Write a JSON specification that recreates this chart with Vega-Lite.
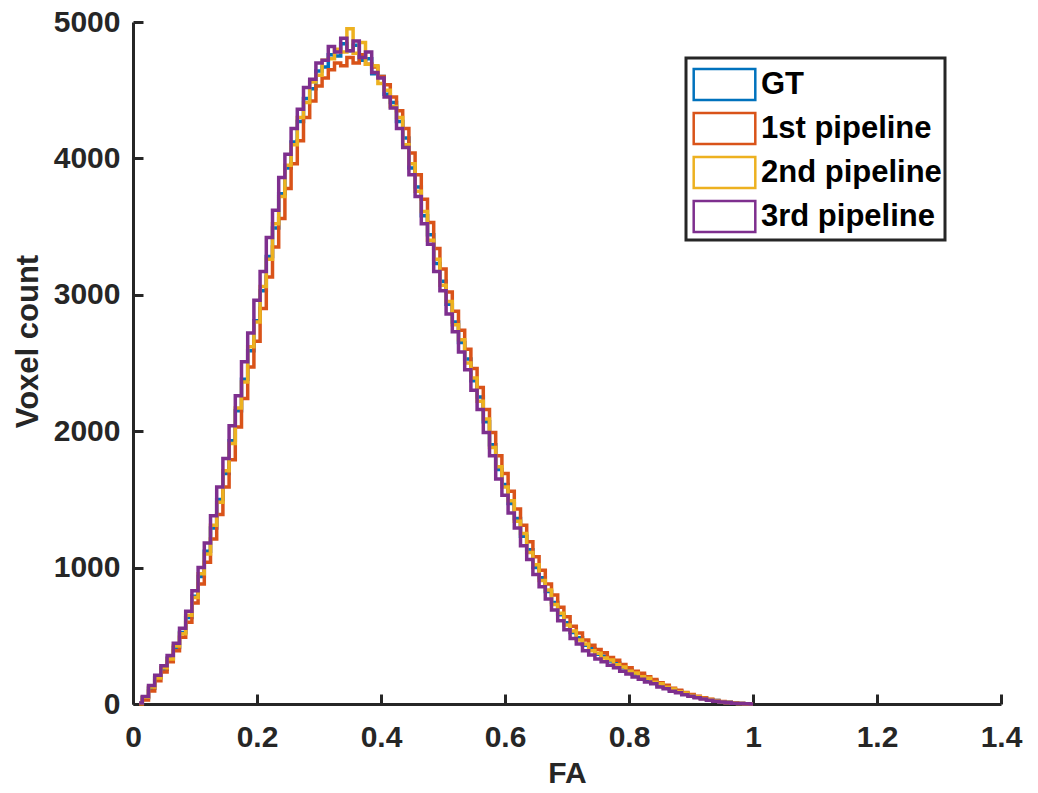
{
"$schema":"https://vega.github.io/schema/vega-lite/v6.json",
"autosize":"none",
"width":868,"height":682,
"padding":{"left":133,"top":22,"right":37,"bottom":89},
"background":"white",
"config":{"view":{"stroke":null},"font":"Liberation Sans"},
"datasets":{
"gt":[{"x":0.01,"y":5},{"x":0.02,"y":45},{"x":0.03,"y":115},{"x":0.04,"y":195},{"x":0.05,"y":255},{"x":0.06,"y":335},{"x":0.07,"y":415},{"x":0.08,"y":525},{"x":0.09,"y":635},{"x":0.10,"y":790},{"x":0.11,"y":935},{"x":0.12,"y":1120},{"x":0.13,"y":1290},{"x":0.14,"y":1500},{"x":0.15,"y":1690},{"x":0.16,"y":1930},{"x":0.17,"y":2150},{"x":0.18,"y":2380},{"x":0.19,"y":2590},{"x":0.20,"y":2810},{"x":0.21,"y":3030},{"x":0.22,"y":3280},{"x":0.23,"y":3490},{"x":0.24,"y":3740},{"x":0.25,"y":3930},{"x":0.26,"y":4120},{"x":0.27,"y":4270},{"x":0.28,"y":4440},{"x":0.29,"y":4510},{"x":0.30,"y":4640},{"x":0.31,"y":4670},{"x":0.32,"y":4760},{"x":0.33,"y":4750},{"x":0.34,"y":4840},{"x":0.35,"y":4790},{"x":0.36,"y":4830},{"x":0.37,"y":4720},{"x":0.38,"y":4730},{"x":0.39,"y":4620},{"x":0.40,"y":4600},{"x":0.41,"y":4470},{"x":0.42,"y":4410},{"x":0.43,"y":4270},{"x":0.44,"y":4150},{"x":0.45,"y":3930},{"x":0.46,"y":3790},{"x":0.47,"y":3580},{"x":0.48,"y":3440},{"x":0.49,"y":3230},{"x":0.50,"y":3100},{"x":0.51,"y":2930},{"x":0.52,"y":2800},{"x":0.53,"y":2650},{"x":0.54,"y":2530},{"x":0.55,"y":2370},{"x":0.56,"y":2250},{"x":0.57,"y":2070},{"x":0.58,"y":1900},{"x":0.59,"y":1720},{"x":0.60,"y":1610},{"x":0.61,"y":1470},{"x":0.62,"y":1360},{"x":0.63,"y":1230},{"x":0.64,"y":1130},{"x":0.65,"y":1000},{"x":0.66,"y":925},{"x":0.67,"y":825},{"x":0.68,"y":745},{"x":0.69,"y":655},{"x":0.70,"y":595},{"x":0.71,"y":525},{"x":0.72,"y":485},{"x":0.73,"y":430},{"x":0.74,"y":405},{"x":0.75,"y":365},{"x":0.76,"y":350},{"x":0.77,"y":315},{"x":0.78,"y":300},{"x":0.79,"y":265},{"x":0.80,"y":250},{"x":0.81,"y":220},{"x":0.82,"y":210},{"x":0.83,"y":180},{"x":0.84,"y":170},{"x":0.85,"y":140},{"x":0.86,"y":128},{"x":0.87,"y":105},{"x":0.88,"y":95},{"x":0.89,"y":76},{"x":0.90,"y":66},{"x":0.91,"y":50},{"x":0.92,"y":44},{"x":0.93,"y":31},{"x":0.94,"y":25},{"x":0.95,"y":16},{"x":0.96,"y":12},{"x":0.97,"y":6},{"x":0.98,"y":4},{"x":0.99,"y":2},{"x":1.00,"y":0}],
"p1":[{"x":0.01,"y":0},{"x":0.02,"y":30},{"x":0.03,"y":95},{"x":0.04,"y":170},{"x":0.05,"y":235},{"x":0.06,"y":310},{"x":0.07,"y":390},{"x":0.08,"y":490},{"x":0.09,"y":600},{"x":0.10,"y":740},{"x":0.11,"y":880},{"x":0.12,"y":1040},{"x":0.13,"y":1210},{"x":0.14,"y":1390},{"x":0.15,"y":1590},{"x":0.16,"y":1790},{"x":0.17,"y":2030},{"x":0.18,"y":2240},{"x":0.19,"y":2470},{"x":0.20,"y":2660},{"x":0.21,"y":2900},{"x":0.22,"y":3130},{"x":0.23,"y":3350},{"x":0.24,"y":3560},{"x":0.25,"y":3780},{"x":0.26,"y":3960},{"x":0.27,"y":4130},{"x":0.28,"y":4300},{"x":0.29,"y":4420},{"x":0.30,"y":4530},{"x":0.31,"y":4590},{"x":0.32,"y":4650},{"x":0.33,"y":4700},{"x":0.34,"y":4680},{"x":0.35,"y":4740},{"x":0.36,"y":4700},{"x":0.37,"y":4760},{"x":0.38,"y":4690},{"x":0.39,"y":4670},{"x":0.40,"y":4600},{"x":0.41,"y":4540},{"x":0.42,"y":4450},{"x":0.43,"y":4350},{"x":0.44,"y":4220},{"x":0.45,"y":4040},{"x":0.46,"y":3880},{"x":0.47,"y":3700},{"x":0.48,"y":3530},{"x":0.49,"y":3340},{"x":0.50,"y":3190},{"x":0.51,"y":3020},{"x":0.52,"y":2880},{"x":0.53,"y":2740},{"x":0.54,"y":2600},{"x":0.55,"y":2460},{"x":0.56,"y":2320},{"x":0.57,"y":2160},{"x":0.58,"y":1990},{"x":0.59,"y":1820},{"x":0.60,"y":1690},{"x":0.61,"y":1560},{"x":0.62,"y":1430},{"x":0.63,"y":1310},{"x":0.64,"y":1190},{"x":0.65,"y":1080},{"x":0.66,"y":980},{"x":0.67,"y":880},{"x":0.68,"y":800},{"x":0.69,"y":710},{"x":0.70,"y":640},{"x":0.71,"y":570},{"x":0.72,"y":520},{"x":0.73,"y":470},{"x":0.74,"y":430},{"x":0.75,"y":400},{"x":0.76,"y":375},{"x":0.77,"y":340},{"x":0.78,"y":320},{"x":0.79,"y":290},{"x":0.80,"y":265},{"x":0.81,"y":240},{"x":0.82,"y":225},{"x":0.83,"y":200},{"x":0.84,"y":180},{"x":0.85,"y":155},{"x":0.86,"y":138},{"x":0.87,"y":115},{"x":0.88,"y":100},{"x":0.89,"y":84},{"x":0.90,"y":70},{"x":0.91,"y":56},{"x":0.92,"y":46},{"x":0.93,"y":35},{"x":0.94,"y":26},{"x":0.95,"y":18},{"x":0.96,"y":12},{"x":0.97,"y":7},{"x":0.98,"y":4},{"x":0.99,"y":2},{"x":1.00,"y":0}],
"p2":[{"x":0.01,"y":3},{"x":0.02,"y":50},{"x":0.03,"y":125},{"x":0.04,"y":190},{"x":0.05,"y":265},{"x":0.06,"y":330},{"x":0.07,"y":425},{"x":0.08,"y":515},{"x":0.09,"y":650},{"x":0.10,"y":780},{"x":0.11,"y":955},{"x":0.12,"y":1100},{"x":0.13,"y":1310},{"x":0.14,"y":1480},{"x":0.15,"y":1710},{"x":0.16,"y":1910},{"x":0.17,"y":2170},{"x":0.18,"y":2360},{"x":0.19,"y":2620},{"x":0.20,"y":2800},{"x":0.21,"y":3060},{"x":0.22,"y":3260},{"x":0.23,"y":3520},{"x":0.24,"y":3720},{"x":0.25,"y":3950},{"x":0.26,"y":4100},{"x":0.27,"y":4300},{"x":0.28,"y":4410},{"x":0.29,"y":4560},{"x":0.30,"y":4610},{"x":0.31,"y":4720},{"x":0.32,"y":4730},{"x":0.33,"y":4800},{"x":0.34,"y":4780},{"x":0.35,"y":4950},{"x":0.36,"y":4770},{"x":0.37,"y":4850},{"x":0.38,"y":4690},{"x":0.39,"y":4680},{"x":0.40,"y":4550},{"x":0.41,"y":4500},{"x":0.42,"y":4380},{"x":0.43,"y":4300},{"x":0.44,"y":4100},{"x":0.45,"y":3960},{"x":0.46,"y":3760},{"x":0.47,"y":3610},{"x":0.48,"y":3400},{"x":0.49,"y":3260},{"x":0.50,"y":3070},{"x":0.51,"y":2950},{"x":0.52,"y":2780},{"x":0.53,"y":2670},{"x":0.54,"y":2500},{"x":0.55,"y":2390},{"x":0.56,"y":2220},{"x":0.57,"y":2090},{"x":0.58,"y":1880},{"x":0.59,"y":1740},{"x":0.60,"y":1590},{"x":0.61,"y":1490},{"x":0.62,"y":1340},{"x":0.63,"y":1250},{"x":0.64,"y":1110},{"x":0.65,"y":1020},{"x":0.66,"y":905},{"x":0.67,"y":835},{"x":0.68,"y":730},{"x":0.69,"y":665},{"x":0.70,"y":580},{"x":0.71,"y":535},{"x":0.72,"y":470},{"x":0.73,"y":440},{"x":0.74,"y":390},{"x":0.75,"y":372},{"x":0.76,"y":338},{"x":0.77,"y":322},{"x":0.78,"y":288},{"x":0.79,"y":272},{"x":0.80,"y":240},{"x":0.81,"y":228},{"x":0.82,"y":200},{"x":0.83,"y":188},{"x":0.84,"y":160},{"x":0.85,"y":148},{"x":0.86,"y":122},{"x":0.87,"y":110},{"x":0.88,"y":90},{"x":0.89,"y":80},{"x":0.90,"y":62},{"x":0.91,"y":54},{"x":0.92,"y":40},{"x":0.93,"y":33},{"x":0.94,"y":23},{"x":0.95,"y":17},{"x":0.96,"y":10},{"x":0.97,"y":7},{"x":0.98,"y":3},{"x":0.99,"y":2},{"x":1.00,"y":0}],
"p3":[{"x":0.01,"y":8},{"x":0.02,"y":55},{"x":0.03,"y":135},{"x":0.04,"y":210},{"x":0.05,"y":280},{"x":0.06,"y":355},{"x":0.07,"y":445},{"x":0.08,"y":555},{"x":0.09,"y":680},{"x":0.10,"y":830},{"x":0.11,"y":1000},{"x":0.12,"y":1180},{"x":0.13,"y":1380},{"x":0.14,"y":1590},{"x":0.15,"y":1800},{"x":0.16,"y":2040},{"x":0.17,"y":2260},{"x":0.18,"y":2510},{"x":0.19,"y":2720},{"x":0.20,"y":2960},{"x":0.21,"y":3170},{"x":0.22,"y":3420},{"x":0.23,"y":3620},{"x":0.24,"y":3860},{"x":0.25,"y":4030},{"x":0.26,"y":4220},{"x":0.27,"y":4360},{"x":0.28,"y":4520},{"x":0.29,"y":4580},{"x":0.30,"y":4700},{"x":0.31,"y":4720},{"x":0.32,"y":4820},{"x":0.33,"y":4780},{"x":0.34,"y":4880},{"x":0.35,"y":4790},{"x":0.36,"y":4860},{"x":0.37,"y":4740},{"x":0.38,"y":4780},{"x":0.39,"y":4630},{"x":0.40,"y":4590},{"x":0.41,"y":4450},{"x":0.42,"y":4370},{"x":0.43,"y":4220},{"x":0.44,"y":4080},{"x":0.45,"y":3880},{"x":0.46,"y":3720},{"x":0.47,"y":3520},{"x":0.48,"y":3370},{"x":0.49,"y":3170},{"x":0.50,"y":3030},{"x":0.51,"y":2860},{"x":0.52,"y":2730},{"x":0.53,"y":2580},{"x":0.54,"y":2450},{"x":0.55,"y":2300},{"x":0.56,"y":2160},{"x":0.57,"y":1990},{"x":0.58,"y":1820},{"x":0.59,"y":1650},{"x":0.60,"y":1530},{"x":0.61,"y":1400},{"x":0.62,"y":1290},{"x":0.63,"y":1160},{"x":0.64,"y":1060},{"x":0.65,"y":950},{"x":0.66,"y":860},{"x":0.67,"y":770},{"x":0.68,"y":690},{"x":0.69,"y":610},{"x":0.70,"y":545},{"x":0.71,"y":480},{"x":0.72,"y":440},{"x":0.73,"y":390},{"x":0.74,"y":360},{"x":0.75,"y":330},{"x":0.76,"y":310},{"x":0.77,"y":285},{"x":0.78,"y":265},{"x":0.79,"y":240},{"x":0.80,"y":220},{"x":0.81,"y":198},{"x":0.82,"y":182},{"x":0.83,"y":162},{"x":0.84,"y":148},{"x":0.85,"y":125},{"x":0.86,"y":112},{"x":0.87,"y":94},{"x":0.88,"y":82},{"x":0.89,"y":68},{"x":0.90,"y":56},{"x":0.91,"y":45},{"x":0.92,"y":36},{"x":0.93,"y":27},{"x":0.94,"y":20},{"x":0.95,"y":14},{"x":0.96,"y":9},{"x":0.97,"y":5},{"x":0.98,"y":3},{"x":0.99,"y":1},{"x":1.00,"y":0}]
},
"encoding":{
"x":{"field":"x","type":"quantitative","scale":{"domain":[0,1.4],"nice":false,"zero":false},
"axis":{"title":"FA","values":[0,0.2,0.4,0.6,0.8,1,1.2,1.4],"format":"~g","grid":false,"domainColor":"#262626","domainWidth":3,"ticks":true,"tickColor":"#262626","tickWidth":3,"tickSize":-10,"labelFontSize":30,"labelFontWeight":"bold","labelColor":"#262626","labelPadding":28,"labelFlush":false,"labelOverlap":false,"titleFontSize":30,"titleFontWeight":"bold","titleColor":"#262626","titlePadding":6}},
"y":{"field":"y","type":"quantitative","scale":{"domain":[0,5000],"nice":false},
"axis":{"title":"Voxel count","values":[0,1000,2000,3000,4000,5000],"format":"d","grid":false,"domainColor":"#262626","domainWidth":3,"ticks":true,"tickColor":"#262626","tickWidth":3,"tickSize":-10,"labelFontSize":30,"labelFontWeight":"bold","labelColor":"#262626","labelPadding":23,"labelFlush":false,"labelOverlap":false,"titleFontSize":31,"titleFontWeight":"bold","titleColor":"#262626","titlePadding":9,"titleY":319}}
},
"layer":[
{"data":{"name":"gt"},"mark":{"type":"line","interpolate":"step","strokeWidth":3.5},"encoding":{"color":{"datum":"GT","type":"nominal","scale":{"domain":["GT","1st pipeline","2nd pipeline","3rd pipeline"],"range":["#0072BD","#D95319","#EDB120","#7E2F8E"]},
"legend":{"title":null,"orient":"none","legendX":553,"legendY":36,"padding":3,"strokeColor":"#262626","fillColor":"white","symbolType":"M-1.4,-0.7H1.4V0.7H-1.4Z","symbolSize":1936,"symbolStrokeWidth":2.5,"symbolFillColor":"white","symbolOffset":12,"labelFontSize":31,"labelFontWeight":"bold","labelColor":"black","labelOffset":13,"rowPadding":0,"labelLimit":400,
"encode":{"legend":{"update":{"strokeWidth":{"value":3}}}}}}}},
{"data":{"name":"p1"},"mark":{"type":"line","interpolate":"step","strokeWidth":3.5},"encoding":{"color":{"datum":"1st pipeline","type":"nominal"}}},
{"data":{"name":"p2"},"mark":{"type":"line","interpolate":"step","strokeWidth":3.5},"encoding":{"color":{"datum":"2nd pipeline","type":"nominal"}}},
{"data":{"name":"p3"},"mark":{"type":"line","interpolate":"step","strokeWidth":3.5},"encoding":{"color":{"datum":"3rd pipeline","type":"nominal"}}}
]
}
